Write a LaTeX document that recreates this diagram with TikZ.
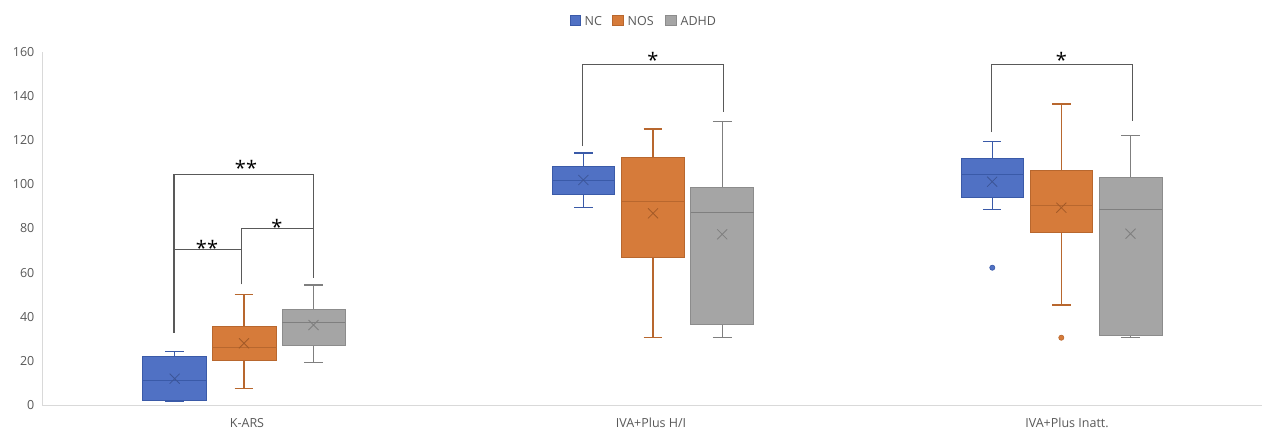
\documentclass[tikz,border=0pt]{standalone}
\usepackage{fontspec}
\setmainfont{Open Sans}
\definecolor{ncfill}{HTML}{5071C4}
\definecolor{ncline}{HTML}{3A5AA8}
\definecolor{ncmark}{HTML}{3C5596}
\definecolor{nosfill}{HTML}{D67B3A}
\definecolor{nosline}{HTML}{B8672E}
\definecolor{nosmark}{HTML}{A35A28}
\definecolor{adfill}{HTML}{A5A5A5}
\definecolor{adline}{HTML}{8C8C8C}
\definecolor{admark}{HTML}{7F7F7F}
\definecolor{axisgray}{HTML}{D9D9D9}
\definecolor{txtgray}{HTML}{595959}
\definecolor{brk}{HTML}{595959}
\tikzset{
  ticklab/.style={anchor=east, text=txtgray, font=\fontsize{12.5}{14}\selectfont, inner sep=0pt},
  catlab/.style={anchor=center, text=txtgray, font=\fontsize{12.5}{14}\selectfont, inner sep=0pt},
  leglab/.style={anchor=west, text=txtgray, font=\fontsize{12.5}{14}\selectfont, inner sep=0pt},
  starlab/.style={anchor=base, text=black, font=\fontsize{20}{22}\selectfont, inner sep=0pt},
  bracket/.style={draw=brk, line width=1.1pt},
  ncstyle/.style={fill=ncfill, draw=ncline},
  nosstyle/.style={fill=nosfill, draw=nosline},
  adstyle/.style={fill=adfill, draw=adline},
  ncw/.style={draw=ncline},
  nosw/.style={draw=nosline},
  adw/.style={draw=admark},
  ncm/.style={draw=ncmark},
  nosm/.style={draw=nosmark},
  adm/.style={draw=admark},
}
% #1 group prefix, #2 left, #3 right, #4 q3 (top), #5 q1 (bottom), #6 median, #7 whisker top, #8 whisker bottom, #9 mean
\newcommand\mybox[9]{%
  \pgfmathsetmacro\cx{(#2+#3)/2}%
  \draw[#1w, line width=1.1pt] (\cx,#4) -- (\cx,#7);
  \draw[#1w, line width=1.1pt] (\cx,#5) -- (\cx,#8);
  \draw[#1w, line width=1.1pt] (\cx-9.3,#7) -- (\cx+9.3,#7);
  \draw[#1w, line width=1.1pt] (\cx-9.3,#8) -- (\cx+9.3,#8);
  \draw[#1style, line width=1pt] (#2,#4) rectangle (#3,#5);
  \draw[#1w, line width=1pt] (#2,#6) -- (#3,#6);
  \draw[#1m, line width=0.8pt] (\cx-5,#9-5) -- (\cx+5,#9+5) (\cx-5,#9+5) -- (\cx+5,#9-5);
}
\begin{document}
\begin{tikzpicture}[x=1pt,y=-1pt]
\useasboundingbox[fill=white] (0,0) rectangle (1265,429);
% axes
\draw[axisgray, line width=1pt] (42,52) -- (42,405) -- (1262,405);
% tick labels
\foreach \v in {0,20,...,160} {
  \node[ticklab] (t\v) at (34.5,{405-\v*2.206}) {\v};
}
% legend
\draw[ncstyle, line width=0.8pt] (570,15.3) rectangle (580.5,25.8);
\node[leglab] (lnc) at (584.5,20.8) {NC};
\draw[nosstyle, line width=0.8pt] (612.5,15.3) rectangle (623,25.8);
\node[leglab] (lnos) at (627.5,20.8) {NOS};
\draw[adstyle, line width=0.8pt] (665.5,15.3) rectangle (676,25.8);
\node[leglab] (lad) at (680.5,20.8) {ADHD};
% K-ARS
\mybox{nc}{142.7}{206.7}{356}{400.7}{380}{351.3}{401.7}{378.7}
\mybox{nos}{212}{276}{326}{360}{347}{294.3}{388.7}{343.3}
\mybox{ad}{282}{345}{309}{345}{322.3}{285}{362.3}{325}
% IVA H/I
\mybox{nc}{552}{614.7}{166}{194.7}{180}{153}{207.7}{180}
\mybox{nos}{621.7}{684.3}{157}{257.7}{201.7}{129}{337.7}{213.3}
\mybox{ad}{690.7}{753.7}{187.7}{324}{212.3}{121.7}{337.7}{234.3}
% IVA Inatt
\mybox{nc}{961}{1023.3}{158}{197.7}{174.7}{141.3}{209.7}{181.7}
\mybox{nos}{1030.3}{1092.3}{170}{232.7}{205.3}{104}{305}{207.7}
\mybox{ad}{1099}{1162}{177.7}{335.7}{209.7}{135.3}{337.3}{233.7}
\fill[ncfill, draw=ncline, line width=0.6pt] (992.3,267.7) circle (2.6);
\fill[nosfill, draw=nosline, line width=0.6pt] (1061.3,337.7) circle (2.6);
% brackets K-ARS
\draw[bracket] (174,332.7) -- (174,174.3) -- (313.7,174.3) -- (313.7,277.7);
\draw[bracket] (174,249.7) -- (241.3,249.7);
\draw[bracket] (241.3,284.3) -- (241.3,228.7) -- (313.7,228.7);
\node[starlab] (s1) at (246,175.5) {**};
\node[starlab] (s2) at (207,255) {**};
\node[starlab] (s3) at (277,234) {*};
% brackets IVA
\draw[bracket] (582.3,146) -- (582.3,64.7) -- (723.3,64.7) -- (723.3,111.7);
\node[starlab] (s4) at (653,67) {*};
\draw[bracket] (991.7,132) -- (991.7,64.3) -- (1132.7,64.3) -- (1132.7,121);
\node[starlab] (s5) at (1061.3,67) {*};
% category labels
\node[catlab] (c1) at (247,423) {K-ARS};
\node[catlab] (c2) at (651,423) {IVA+Plus H/I};
\node[catlab] (c3) at (1067,423) {IVA+Plus Inatt.};
\end{tikzpicture}
\end{document}
